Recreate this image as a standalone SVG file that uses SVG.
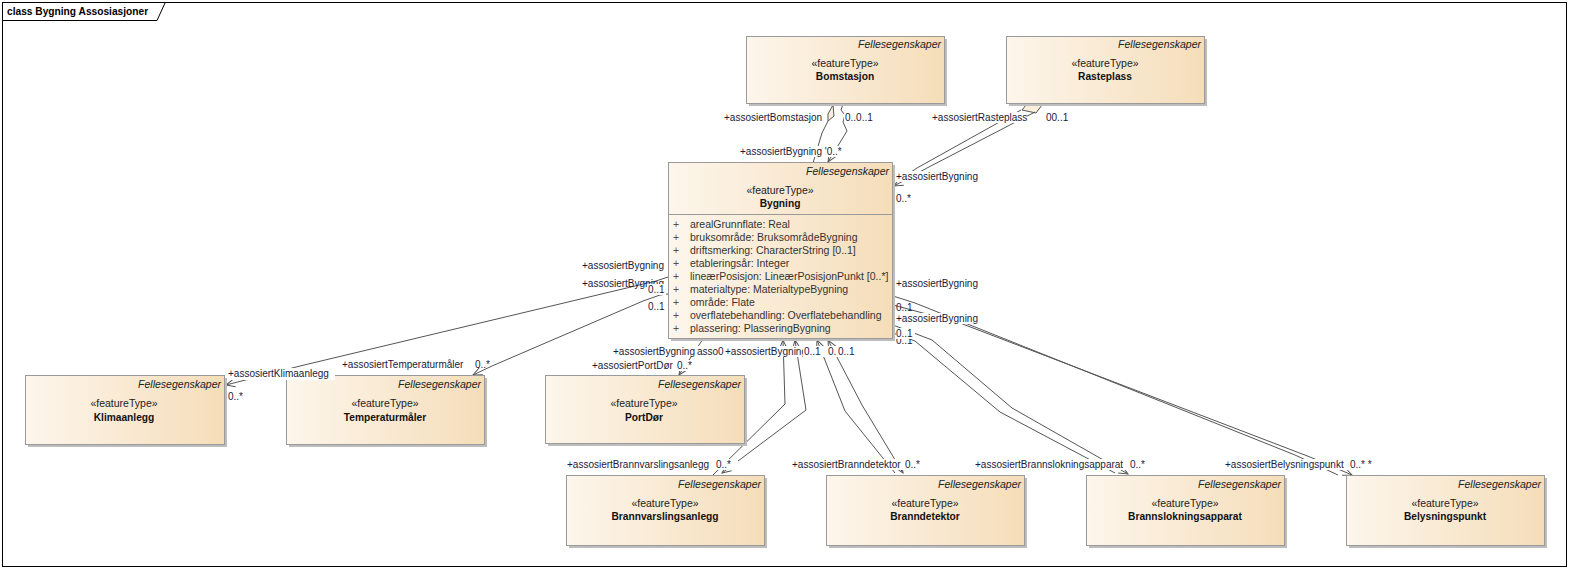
<svg xmlns="http://www.w3.org/2000/svg" width="1570" height="570" viewBox="0 0 1570 570">
<style>
.frame{fill:#fff;stroke:#000;stroke-width:1}
.box{stroke:#9a9a9a;stroke-width:1;fill:url(#g)}
.sh{fill:#bdbdbd}
.st{font-family:"Liberation Sans",Arial,sans-serif;font-size:10.5px;font-style:italic;fill:#222;text-anchor:end}
.ft{font-family:"Liberation Sans",Arial,sans-serif;font-size:10.5px;fill:#222;text-anchor:middle}
.nm{font-family:"Liberation Sans",Arial,sans-serif;font-size:10.2px;font-weight:bold;fill:#111;text-anchor:middle}
.at{font-family:"Liberation Sans",Arial,sans-serif;font-size:10.5px;fill:#333}
.pl{font-family:"Liberation Sans",Arial,sans-serif;font-size:10.5px;fill:#6b4a2a}
.lb{font-family:"Liberation Sans",Arial,sans-serif;font-size:10px;fill:#1a1a3a}
.bg{fill:#fff}
.ln{fill:none;stroke:#555;stroke-width:1}
.dm{fill:#fbeedb;stroke:#555;stroke-width:1}
</style>
<defs>
<linearGradient id="g" x1="0" y1="0" x2="1" y2="0">
<stop offset="0" stop-color="#fdf6ec"/>
<stop offset="1" stop-color="#f5ddb9"/>
</linearGradient>
<marker id="arr" markerUnits="userSpaceOnUse" markerWidth="12" markerHeight="12" viewBox="0 0 12 12" refX="10" refY="6" orient="auto"><path d="M1,2 L10,6 L1,10" fill="none" stroke="#555" stroke-width="1"/></marker>
<marker id="arrs" markerUnits="userSpaceOnUse" markerWidth="12" markerHeight="12" viewBox="0 0 12 12" refX="10" refY="6" orient="auto-start-reverse"><path d="M1,2 L10,6 L1,10" fill="none" stroke="#555" stroke-width="1"/></marker>
</defs>
<rect x="0" y="0" width="1570" height="570" fill="#fff"/>
<rect class="frame" x="2.5" y="2.5" width="1564" height="564"/>
<path d="M2.5,20.5 L157,20.5 L165,3" fill="none" stroke="#000" stroke-width="1"/>
<text x="7" y="15" font-family="Liberation Sans,Arial,sans-serif" font-size="10.2px" font-weight="bold" fill="#000">class Bygning Assosiasjoner</text>

<g id="connectors">
<path class="ln" d="M813,163 L822,133 L828,121"/>
<path class="dm" d="M828,121 L828,114 L833,105 L834,116 Z"/>
<path class="ln" d="M843,104 L841,110 L845,115 L843,122 L847,131 L828,162" marker-end="url(#arr)"/>
<path class="dm" d="M1022,110 L1026,105 L1042,105 L1036,113 Z"/>
<path class="ln" d="M1021,110 L917,168 L905,176"/>
<path class="ln" d="M1035,112 L927,168 L894,186" marker-end="url(#arr)"/>
<path class="ln" d="M668,277 L656,281 L300,366 L226,385" marker-end="url(#arr)"/>
<path class="ln" d="M668,294 L660,295 L643,301 L492,366 L473,375" marker-end="url(#arr)"/>
<path class="ln" d="M708,340 L703,339 L679,375" marker-end="url(#arr)"/>
<path class="ln" d="M783,340 L785,404 L713,475" marker-start="url(#arrs)"/>
<path class="ln" d="M795,340 L806,410 L722,473" marker-start="url(#arrs)" marker-end="url(#arr)"/>
<path class="ln" d="M817,340 L845,411 L895,473" marker-start="url(#arrs)"/>
<path class="ln" d="M828,340 L862,405 L903,473" marker-start="url(#arrs)" marker-end="url(#arr)"/>
<path class="ln" d="M893,333 L915,341 L1000,412 L1115,473"/>
<path class="ln" d="M893,325 L932,340 L1012,408 L1128,474" marker-end="url(#arr)"/>
<path class="ln" d="M893,296 L915,303 L1295,455 L1338,475"/>
<path class="ln" d="M893,305 L960,323 L1310,457 L1352,475" marker-end="url(#arr)"/>
</g>

<g id="Bomstasjon">
<rect class="sh" x="749" y="39" width="198" height="67"/>
<rect class="box" x="746.5" y="36.5" width="198" height="67"/>
<text class="st" x="941" y="48">Fellesegenskaper</text>
<text class="ft" x="845" y="67">«featureType»</text>
<text class="nm" x="845" y="80">Bomstasjon</text>
</g>
<g id="Rasteplass">
<rect class="sh" x="1009" y="39" width="198" height="67"/>
<rect class="box" x="1006.5" y="36.5" width="198" height="67"/>
<text class="st" x="1201" y="48">Fellesegenskaper</text>
<text class="ft" x="1105" y="67">«featureType»</text>
<text class="nm" x="1105" y="80">Rasteplass</text>
</g>
<g id="Bygning">
<rect class="sh" x="671" y="165" width="224" height="176"/>
<rect class="box" x="668.5" y="162.5" width="224" height="176"/>
<line x1="668.5" y1="214.5" x2="892.5" y2="214.5" stroke="#9a9a9a"/>
<text class="st" x="889" y="175">Fellesegenskaper</text>
<text class="ft" x="780" y="194">«featureType»</text>
<text class="nm" x="780" y="207">Bygning</text>
<g class="pl"><text x="673" y="228">+</text><text x="673" y="241">+</text><text x="673" y="254">+</text><text x="673" y="267">+</text><text x="673" y="280">+</text><text x="673" y="293">+</text><text x="673" y="306">+</text><text x="673" y="319">+</text><text x="673" y="332">+</text></g>
<text class="at" x="690" y="228">arealGrunnflate: Real</text>
<text class="at" x="690" y="241">bruksområde: BruksområdeBygning</text>
<text class="at" x="690" y="254">driftsmerking: CharacterString [0..1]</text>
<text class="at" x="690" y="267">etableringsår: Integer</text>
<text class="at" x="690" y="280">lineærPosisjon: LineærPosisjonPunkt [0..*]</text>
<text class="at" x="690" y="293">materialtype: MaterialtypeBygning</text>
<text class="at" x="690" y="306">område: Flate</text>
<text class="at" x="690" y="319">overflatebehandling: Overflatebehandling</text>
<text class="at" x="690" y="332">plassering: PlasseringBygning</text>
</g>
<g id="Klimaanlegg">
<rect class="sh" x="28" y="378" width="199" height="69"/>
<rect class="box" x="25.5" y="375.5" width="199" height="69"/>
<text class="st" x="221" y="388">Fellesegenskaper</text>
<text class="ft" x="124" y="407">«featureType»</text>
<text class="nm" x="124" y="421">Klimaanlegg</text>
</g>
<g id="Temperaturmaler">
<rect class="sh" x="289" y="378" width="198" height="69"/>
<rect class="box" x="286.5" y="375.5" width="198" height="69"/>
<text class="st" x="481" y="388">Fellesegenskaper</text>
<text class="ft" x="385" y="407">«featureType»</text>
<text class="nm" x="385" y="421">Temperaturmåler</text>
</g>
<g id="PortDor">
<rect class="sh" x="548" y="378" width="199" height="68"/>
<rect class="box" x="545.5" y="375.5" width="199" height="68"/>
<text class="st" x="741" y="388">Fellesegenskaper</text>
<text class="ft" x="644" y="407">«featureType»</text>
<text class="nm" x="644" y="421">PortDør</text>
</g>
<g id="Brannvarslingsanlegg">
<rect class="sh" x="569" y="478" width="198" height="70"/>
<rect class="box" x="566.5" y="475.5" width="198" height="70"/>
<text class="st" x="761" y="488">Fellesegenskaper</text>
<text class="ft" x="665" y="507">«featureType»</text>
<text class="nm" x="665" y="520">Brannvarslingsanlegg</text>
</g>
<g id="Branndetektor">
<rect class="sh" x="829" y="478" width="198" height="70"/>
<rect class="box" x="826.5" y="475.5" width="198" height="70"/>
<text class="st" x="1021" y="488">Fellesegenskaper</text>
<text class="ft" x="925" y="507">«featureType»</text>
<text class="nm" x="925" y="520">Branndetektor</text>
</g>
<g id="Brannslokningsapparat">
<rect class="sh" x="1089" y="478" width="198" height="70"/>
<rect class="box" x="1086.5" y="475.5" width="198" height="70"/>
<text class="st" x="1281" y="488">Fellesegenskaper</text>
<text class="ft" x="1185" y="507">«featureType»</text>
<text class="nm" x="1185" y="520">Brannslokningsapparat</text>
</g>
<g id="Belysningspunkt">
<rect class="sh" x="1349" y="478" width="198" height="70"/>
<rect class="box" x="1346.5" y="475.5" width="198" height="70"/>
<text class="st" x="1541" y="488">Fellesegenskaper</text>
<text class="ft" x="1445" y="507">«featureType»</text>
<text class="nm" x="1445" y="520">Belysningspunkt</text>
</g>

<g id="labels">
<rect class="bg" x="723" y="112" width="101" height="11"/>
<text class="lb" x="724" y="121">+assosiertBomstasjon</text>
<rect class="bg" x="844" y="112" width="32" height="11"/>
<text class="lb" x="845" y="121">0..0..1</text>
<rect class="bg" x="739" y="146" width="108" height="11"/>
<text class="lb" x="740" y="155">+assosiertBygning '0..*</text>
<rect class="bg" x="931" y="112" width="96" height="11"/>
<text class="lb" x="932" y="121">+assosiertRasteplass</text>
<text class="lb" x="1046" y="121">00..1</text>
<rect class="bg" x="896" y="171" width="85" height="11"/>
<text class="lb" x="896" y="180">+assosiertBygning</text>
<text class="lb" x="896" y="202">0..*</text>
<text class="lb" x="582" y="269">+assosiertBygning</text>
<text class="lb" x="582" y="287">+assosiertBygning</text>
<rect class="bg" x="647" y="284" width="19" height="11"/>
<text class="lb" x="648" y="293">0..1</text>
<text class="lb" x="648" y="310">0..1</text>
<rect class="bg" x="612" y="346" width="112" height="11"/>
<text class="lb" x="613" y="355">+assosiertBygning</text>
<text class="lb" x="697" y="355">asso0</text>
<rect class="bg" x="724" y="346" width="132" height="11"/>
<text class="lb" x="725" y="355">+assosiertBygning</text>
<rect class="bg" x="803" y="346" width="20" height="11"/>
<text class="lb" x="804" y="355">0..1</text>
<text class="lb" x="828" y="355">0.</text>
<rect class="bg" x="837" y="346" width="19" height="11"/>
<text class="lb" x="838" y="355">0..1</text>
<rect class="bg" x="591" y="360" width="104" height="11"/>
<text class="lb" x="592" y="369">+assosiertPortDør</text>
<text class="lb" x="677" y="369">0..*</text>
<rect class="bg" x="227" y="368" width="108" height="12"/>
<text class="lb" x="228" y="377">+assosiertKlimaanlegg</text>
<text class="lb" x="228" y="400">0..*</text>
<text class="lb" x="342" y="368">+assosiertTemperaturmåler</text>
<text class="lb" x="475" y="368">0..*</text>
<rect class="bg" x="566" y="459" width="172" height="11"/>
<text class="lb" x="567" y="468">+assosiertBrannvarslingsanlegg</text>
<text class="lb" x="716" y="468">0..*</text>
<rect class="bg" x="791" y="459" width="133" height="11"/>
<text class="lb" x="792" y="468">+assosiertBranndetektor</text>
<text class="lb" x="905" y="468">0..*</text>
<rect class="bg" x="974" y="459" width="174" height="11"/>
<text class="lb" x="975" y="468">+assosiertBrannslokningsapparat</text>
<text class="lb" x="1130" y="468">0..*</text>
<rect class="bg" x="1224" y="459" width="152" height="11"/>
<text class="lb" x="1225" y="468">+assosiertBelysningspunkt</text>
<text class="lb" x="1350" y="468">0..* *</text>
<text class="lb" x="896" y="287">+assosiertBygning</text>
<text class="lb" x="896" y="311">0..1</text>
<rect class="bg" x="896" y="313" width="84" height="11"/>
<text class="lb" x="896" y="322">+assosiertBygning</text>
<text class="lb" x="896" y="344">0..1</text>
<rect class="bg" x="896" y="328" width="19" height="11"/>
<text class="lb" x="896" y="337">0..1</text>
</g>
</svg>
